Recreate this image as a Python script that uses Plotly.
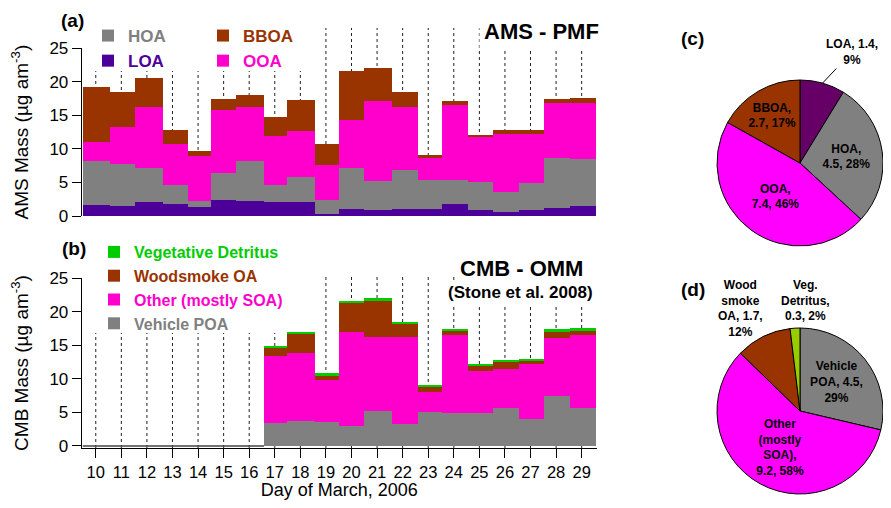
import math
import plotly.graph_objects as go

# ---------------- data ----------------
days = list(range(10, 30))
# sample period boundaries (day of March)
edges = [9.49, 10.56, 11.51, 12.60, 13.60, 14.50, 15.47, 16.58, 17.47, 18.57, 19.48,
         20.49, 21.57, 22.59, 23.53, 24.54, 25.54, 26.52, 27.50, 28.54, 29.56]

# AMS-PMF (ug/m3)
loa = [1.54, 1.49, 2.09, 1.79, 1.24, 2.39, 2.24, 2.04, 1.99, 0.25,
       1.04, 0.89, 1.04, 1.04, 1.79, 0.89, 0.50, 0.89, 1.19, 1.49]
hoa = [6.66, 6.26, 5.07, 2.83, 1.00, 4.02, 5.86, 2.58, 3.83, 2.14,
       6.12, 4.33, 5.82, 4.33, 3.58, 4.08, 2.98, 3.93, 7.46, 6.91]
ooa = [2.73, 5.52, 9.04, 6.12, 6.61, 9.39, 8.05, 7.21, 6.85, 5.21,
       7.05, 11.83, 9.39, 3.18, 11.18, 6.71, 8.75, 7.41, 8.15, 8.40]
bboa = [8.30, 5.17, 4.38, 2.08, 0.84, 1.65, 1.89, 2.93, 4.63, 3.14,
        7.41, 4.92, 2.24, 0.55, 0.60, 0.35, 0.54, 0.54, 0.55, 0.79]

# CMB-OMM (ug/m3)
vehicle = [0, 0, 0, 0, 0, 0, 0, 3.48, 3.73, 3.63,
           3.03, 5.22, 3.33, 5.12, 4.97, 4.97, 5.72, 4.03, 7.50, 5.72]
other = [0, 0, 0, 0, 0, 0, 0, 9.84, 10.14, 6.26,
         13.97, 10.93, 12.82, 2.98, 11.58, 6.26, 5.81, 8.10, 8.50, 10.83]
wood = [0, 0, 0, 0, 0, 0, 0, 1.39, 2.88, 0.65,
        4.22, 5.37, 1.94, 0.70, 0.60, 0.80, 1.04, 0.64, 1.00, 0.70]
veg = [0, 0, 0, 0, 0, 0, 0, 0.15, 0.20, 0.25,
       0.40, 0.45, 0.40, 0.30, 0.20, 0.10, 0.20, 0.15, 0.45, 0.29]

# pie (c) AMS average
pc_names = ["LOA", "HOA", "OOA", "BBOA"]
pc_vals = [1.4, 4.5, 7.4, 2.7]
pc_pct = [9, 28, 46, 17]
# pie (d) CMB average
pd_names = ["Vehicle POA", "Other (mostly SOA)", "Wood smoke OA", "Veg. Detritus"]
pd_vals = [4.5, 9.2, 1.7, 0.3]
pd_pct = [29, 58, 12, 2]

ytick_vals = [0, 5, 10, 15, 20, 25]

# ---------------- helpers ----------------
centers = [(edges[i] + edges[i + 1]) / 2 for i in range(len(days))]
widths = [edges[i + 1] - edges[i] for i in range(len(days))]

# page is 891x508; the html body has an 8px margin
OFF = 8
FW, FH = 891 - 2 * OFF, 508 - 2 * OFF
def px(xp):
    return (xp - OFF) / FW
def py(yp):
    return 1 - (yp - OFF) / FH

FONT = "Arial, Liberation Sans, sans-serif"
xdom = [px(81.7), px(597)]
ydom_a = [py(216), py(48.3)]
ydom_b = [py(448), py(278)]
xrange = [9.45, 29.6]

# pie geometry (page pixels)
PIE_R = 83
PIE_CX = 891 - OFF - PIE_R
PIE_CY_C = 163
PIE_CY_D = 411

def pie_edge(vals, i, cy):
    tot = sum(vals)
    mid = (sum(vals[:i]) + vals[i] / 2) / tot * 2 * math.pi
    return PIE_CX + PIE_R * math.sin(mid), cy - PIE_R * math.cos(mid)

fig = go.Figure()

def span(txt, col):
    return f'<span style="color:{col}">{txt}</span>'

# Panel (a) stacked bars
for vals, name, col, leg in [
    (loa, "LOA", "#4c0099", "legend"),
    (hoa, "HOA", "#808080", "legend"),
    (ooa, "OOA", "#ff00cc", "legend2"),
    (bboa, "BBOA", "#993300", "legend2"),
]:
    fig.add_trace(go.Bar(x=centers, y=vals, width=widths, name=span(name, col),
                         marker=dict(color=col, line=dict(width=0)),
                         xaxis="x", yaxis="y", legend=leg, hoverinfo="skip"))

# Panel (b) stacked bars
for vals, name, col in [
    (vehicle, "Vehicle POA", "#808080"),
    (other, "Other (mostly SOA)", "#ff00cc"),
    (wood, "Woodsmoke OA", "#993300"),
    (veg, "Vegetative Detritus", "#00cc00"),
]:
    fig.add_trace(go.Bar(x=centers, y=vals, width=widths, name=span(name, col),
                         marker=dict(color=col, line=dict(width=0)),
                         xaxis="x2", yaxis="y2", legend="legend3", hoverinfo="skip"))

# zero line where no CMB data
tot_b = [a + b + c + d for a, b, c, d in zip(vehicle, other, wood, veg)]
zero_idx = [i for i, t in enumerate(tot_b) if t == 0]
fig.add_trace(go.Scatter(x=[edges[zero_idx[0]], edges[zero_idx[-1] + 1]], y=[0, 0],
                         mode="lines", line=dict(color="#444", width=1.5),
                         xaxis="x2", yaxis="y2", showlegend=False, hoverinfo="skip"))

# Pies
pc_text = ["",
           f"{pc_names[1]},<br>{pc_vals[1]}, {pc_pct[1]}%",
           f"{pc_names[2]},<br>{pc_vals[2]}, {pc_pct[2]}%",
           f"{pc_names[3]},<br>{pc_vals[3]}, {pc_pct[3]}%"]
pd_text = [f"Vehicle<br>POA, {pd_vals[0]},<br>{pd_pct[0]}%",
           f"Other<br>(mostly<br>SOA),<br>{pd_vals[1]}, {pd_pct[1]}%",
           "", ""]

pie_x = [px(PIE_CX - PIE_R), px(PIE_CX + PIE_R)]
pie_font = dict(size=12, color="black", weight="bold", family=FONT)
fig.add_trace(go.Pie(labels=pc_names, values=pc_vals, text=pc_text, textinfo="text",
                     sort=False, direction="clockwise", rotation=0,
                     marker=dict(colors=["#660066", "#808080", "#ff00ff", "#993300"],
                                 line=dict(color="black", width=1)),
                     textposition=["none", "inside", "inside", "inside"],
                     insidetextorientation="horizontal",
                     textfont=pie_font, automargin=False,
                     domain=dict(x=pie_x, y=[py(PIE_CY_C + PIE_R), py(PIE_CY_C - PIE_R)]),
                     showlegend=False, hoverinfo="skip"))
fig.add_trace(go.Pie(labels=pd_names, values=pd_vals, text=pd_text, textinfo="text",
                     sort=False, direction="clockwise", rotation=0,
                     marker=dict(colors=["#808080", "#ff00ff", "#993300", "#99cc00"],
                                 line=dict(color="black", width=1)),
                     textposition=["inside", "inside", "none", "none"],
                     insidetextorientation="horizontal",
                     textfont=pie_font, automargin=False,
                     domain=dict(x=pie_x, y=[py(PIE_CY_D + PIE_R), py(PIE_CY_D - PIE_R)]),
                     showlegend=False, hoverinfo="skip"))

# dotted day lines (behind bars)
shapes = []
for d in days:
    shapes.append(dict(type="line", xref="x", yref="paper", x0=d, x1=d,
                       y0=ydom_a[0], y1=py(28), layer="below",
                       line=dict(color="#222", width=1, dash="dot")))
    shapes.append(dict(type="line", xref="x2", yref="paper", x0=d, x1=d,
                       y0=ydom_b[0], y1=py(275), layer="below",
                       line=dict(color="#222", width=1, dash="dot")))
# white backing behind legends (hides the dotted lines there)
shapes.append(dict(type="rect", xref="paper", yref="paper", x0=px(88), x1=px(312),
                   y0=py(71), y1=py(15), fillcolor="white", line=dict(width=0), layer="below"))
shapes.append(dict(type="rect", xref="paper", yref="paper", x0=px(92), x1=px(320),
                   y0=py(333), y1=py(232), fillcolor="white", line=dict(width=0), layer="below"))

axis_common = dict(showline=True, linecolor="black", linewidth=1, ticks="outside",
                   ticklen=9, tickcolor="black", showgrid=False, zeroline=False,
                   automargin=False)
ytickfont = dict(size=17, family=FONT, color="black")

# outside pie labels
ex, ey = pie_edge(pc_vals, 0, PIE_CY_C)
lx, ly = 852, 52
wx, wy = pie_edge(pd_vals, 2, PIE_CY_D)
wlx, wly = 740, 308

legend_common = dict(xanchor="left", yanchor="top", bgcolor="rgba(0,0,0,0)",
                     traceorder="reversed",
                     itemclick=False, itemdoubleclick=False)

def ann(text, x, y, size, **kw):
    d = dict(text=text, xref="paper", yref="paper", x=px(x), y=py(y), showarrow=False,
             xanchor="center", yanchor="middle", font=dict(size=size))
    d.update(kw)
    return d

fig.update_layout(
    width=FW, height=FH, margin=dict(l=0, r=0, t=0, b=0, autoexpand=False),
    paper_bgcolor="white", plot_bgcolor="rgba(0,0,0,0)",
    barmode="stack", bargap=0,
    font=dict(family=FONT, size=17, color="black"),
    shapes=shapes,
    xaxis=dict(domain=xdom, range=xrange, anchor="y", showline=False, ticks="",
               showticklabels=False, showgrid=False, zeroline=False, automargin=False),
    yaxis=dict(domain=ydom_a, range=[0, 25], anchor="x", tickvals=ytick_vals, tickfont=ytickfont,
               title=dict(text="AMS Mass (µg am<sup>-3</sup>)", font=dict(size=19), standoff=16),
               **axis_common),
    yaxis3=dict(overlaying="y", side="right", anchor="x", range=[0, 25],
                tickvals=ytick_vals, tickfont=ytickfont, **axis_common),
    xaxis2=dict(domain=xdom, range=xrange, anchor="y2", tickvals=days,
                tickfont=dict(size=16.5, family=FONT, color="black"),
                title=dict(text="Day of March, 2006", font=dict(size=18), standoff=5),
                **axis_common),
    yaxis2=dict(domain=ydom_b, range=[-0.3, 25], anchor="x2", tickvals=ytick_vals,
                tickfont=ytickfont,
                title=dict(text="CMB Mass (µg am<sup>-3</sup>)", font=dict(size=19), standoff=16),
                **axis_common),
    yaxis4=dict(overlaying="y2", side="right", anchor="x2", range=[-0.3, 25],
                tickvals=ytick_vals, tickfont=ytickfont, **axis_common),
    legend=dict(x=px(88), y=py(18), font=dict(size=17, weight="bold", family=FONT),
                **legend_common),
    legend2=dict(x=px(203), y=py(18), font=dict(size=17, weight="bold", family=FONT),
                 **legend_common),
    legend3=dict(x=px(94), y=py(235), font=dict(size=16, weight="bold", family=FONT),
                 **legend_common),
    annotations=[
        ann("<b>AMS - PMF</b>", 541, 31, 22, bgcolor="white", borderpad=4),
        ann("<b>CMB - OMM</b>", 521, 268, 22, bgcolor="white", borderpad=1),
        ann("<b>(Stone et al. 2008)</b>", 520, 292, 17, bgcolor="white", borderpad=2),
        ann("<b>(a)</b>", 72, 21, 19),
        ann("<b>(b)</b>", 74, 248, 19),
        ann("<b>(c)</b>", 692, 39, 19),
        ann("<b>(d)</b>", 693, 289, 19),
        # outside pie labels with leader lines
        ann(f"<b>{pc_names[0]}, {pc_vals[0]},<br>{pc_pct[0]}%</b>", ex, ey, 12,
            showarrow=True, ax=lx - ex, ay=ly - ey, arrowhead=0, arrowwidth=1,
            arrowcolor="black"),
        ann(f"<b>Wood<br>smoke<br>OA, {pd_vals[2]},<br>{pd_pct[2]}%</b>", wx, wy, 12,
            showarrow=True, ax=wlx - wx, ay=wly - wy, arrowhead=0, arrowwidth=1,
            arrowcolor="black"),
        ann(f"<b>Veg.<br>Detritus,<br>{pd_vals[3]}, {pd_pct[3]}%</b>", 805, 300, 12),
    ],
)

fig.write_html("out.html")
